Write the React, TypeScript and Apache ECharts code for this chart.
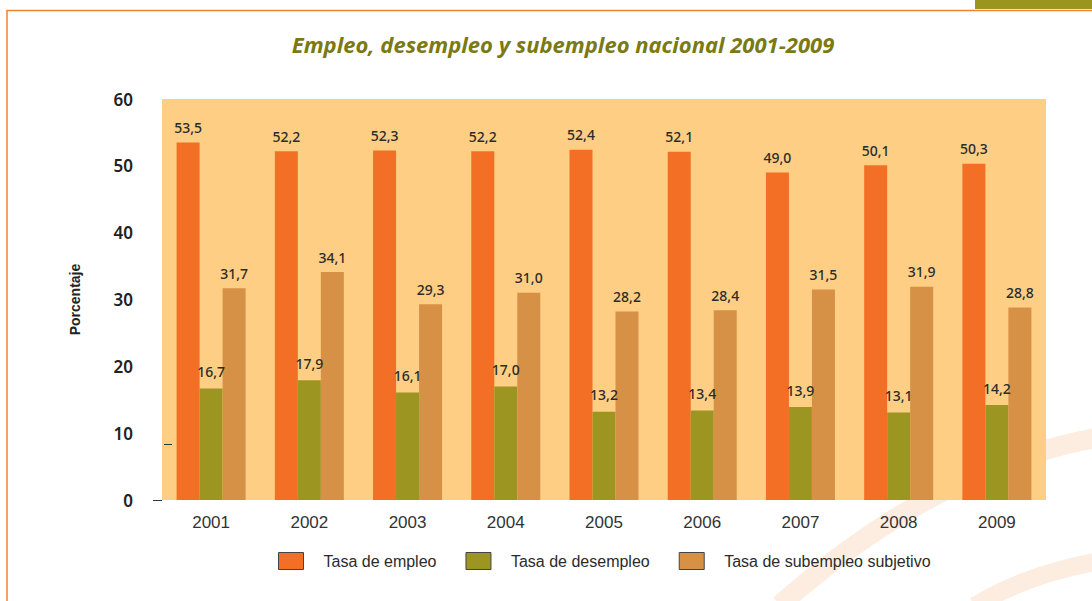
import React, { useEffect, useRef } from "react";
import * as echarts from "echarts";

const years = ["2001", "2002", "2003", "2004", "2005", "2006", "2007", "2008", "2009"];
const empleo = [53.5, 52.2, 52.3, 52.2, 52.4, 52.1, 49.0, 50.1, 50.3];
const desempleo = [16.7, 17.9, 16.1, 17.0, 13.2, 13.4, 13.9, 13.1, 14.2];
const subempleo = [31.7, 34.1, 29.3, 31.0, 28.2, 28.4, 31.5, 31.9, 28.8];
const seriesNames = ["Tasa de empleo", "Tasa de desempleo", "Tasa de subempleo subjetivo"];
const colors = ["#f36f26", "#9c9522", "#d69146"];
const titleText = "Empleo, desempleo y subempleo nacional 2001-2009";

const fmt = (p: any) => Number(p.value).toFixed(1).replace(".", ",");

export default function App() {
  const ref = useRef<HTMLDivElement>(null);
  useEffect(() => {
    if (!ref.current) return;
    const chart = echarts.init(ref.current, undefined, { renderer: "svg" });
    const labelStyle = (dist: number) => ({
      show: true,
      position: "top" as const,
      distance: dist,
      formatter: fmt,
      fontFamily: "Noto Sans",
      fontSize: 14,
      fontWeight: 500,
      color: "#2b2b2b",
    });
    const data = [empleo, desempleo, subempleo];
    chart.setOption({
      animation: false,
      backgroundColor: "#ffffff",
      title: {
        text: titleText,
        left: 558,
        top: 28,
        textAlign: "center",
        textStyle: {
          fontFamily: "Open Sans",
          fontStyle: "italic",
          fontWeight: "bold",
          fontSize: 22,
          color: "#7b7914",
        },
      },
      graphic: [
        {
          type: "bezierCurve",
          z: -1,
          silent: true,
          shape: { x1: 780, y1: 605, cpx1: 935, cpy1: 468, x2: 1095, y2: 438 },
          style: { stroke: "#fdede0", lineWidth: 20, fill: null },
        },
        {
          type: "bezierCurve",
          z: -1,
          silent: true,
          shape: { x1: 975, y1: 606, cpx1: 1025, cpy1: 575, x2: 1095, y2: 562 },
          style: { stroke: "#fdede0", lineWidth: 18, fill: null },
        },
        {
          type: "rect",
          silent: true,
          shape: { x: 975, y: 0, width: 117, height: 9 },
          style: { fill: "#9a9520" },
        },
        {
          type: "polyline",
          silent: true,
          shape: { points: [[7, 601], [7, 10.5], [1092, 10.5]] },
          style: { stroke: "#f4812f", lineWidth: 1.5, fill: null },
        },
        {
          type: "line",
          silent: true,
          shape: { x1: 153, y1: 500.5, x2: 162, y2: 500.5 },
          style: { stroke: "#333", lineWidth: 1 },
        },
        {
          type: "line",
          silent: true,
          shape: { x1: 164, y1: 444.5, x2: 172, y2: 444.5 },
          style: { stroke: "#333", lineWidth: 1 },
        },
      ],
      legend: {
        data: seriesNames,
        left: 273,
        top: 547,
        itemWidth: 25,
        itemHeight: 17,
        itemGap: 29,
        icon: "rect",
        itemStyle: { borderColor: "#444", borderWidth: 1 },
        textStyle: {
          fontFamily: "Liberation Sans",
          fontSize: 16,
          color: "#2b2b2b",
          padding: [0, 0, 0, 15],
        },
      },
      grid: {
        left: 162,
        right: 46,
        top: 99,
        bottom: 101,
        show: true,
        backgroundColor: "#fdce84",
        borderWidth: 0,
      },
      xAxis: {
        type: "category",
        data: years,
        axisLine: { show: false },
        axisTick: { show: false },
        axisLabel: {
          margin: 14,
          fontFamily: "Liberation Sans",
          fontSize: 17,
          color: "#333",
        },
      },
      yAxis: {
        type: "value",
        min: 0,
        max: 60,
        interval: 10,
        splitLine: { show: false },
        axisLine: { show: false },
        axisTick: { show: false },
        name: "Porcentaje",
        nameLocation: "middle",
        nameRotate: 90,
        nameGap: 80,
        nameTextStyle: {
          fontFamily: "Liberation Sans",
          fontWeight: "bold",
          fontSize: 14,
          color: "#222",
        },
        axisLabel: {
          margin: 29,
          fontFamily: "Noto Sans",
          fontWeight: 600,
          fontSize: 17,
          color: "#222",
        },
      },
      series: seriesNames.map((name, i) => ({
        name,
        type: "bar",
        data: data[i],
        barWidth: 23,
        barGap: "0%",
        itemStyle: { color: colors[i] },
        label: labelStyle(i === 1 ? 10 : 8),
      })),
    });
    return () => chart.dispose();
  }, []);
  return (
    <div
      ref={ref}
      style={{ position: "fixed", left: 0, top: 0, width: 1092, height: 601 }}
    />
  );
}
